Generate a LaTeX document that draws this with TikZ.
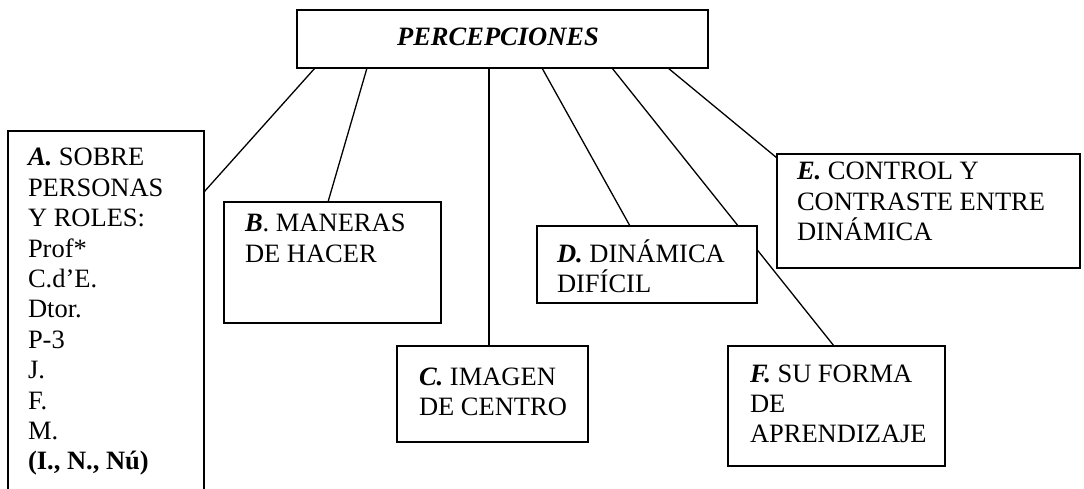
\documentclass[tikz,border=0pt]{standalone}
\usepackage{fontspec}
\setmainfont{Liberation Serif}
\usetikzlibrary{backgrounds}
\newcommand{\boxtext}[1]{\parbox[t]{320pt}{\fontsize{26.5}{30.4}\selectfont\raggedright #1}}
\newcommand{\lab}[1]{\textbf{\textit{#1}}}
\tikzset{
  box/.style={draw=black, line width=1.5pt, fill=white, inner sep=0pt, outer sep=0pt, anchor=north west},
  txt/.style={inner sep=0pt, outer sep=0pt, anchor=base west},
  conn/.style={draw=black, line width=1.3pt}
}
\begin{document}
\begin{tikzpicture}[x=1pt,y=-1pt]
\useasboundingbox (0,0) rectangle (1084,489);
\clip (0,0) rectangle (1084,489);
% boxes
\node[box, minimum width=411pt, minimum height=58pt] (P) at (297,10) {};
\node[box, minimum width=196pt, minimum height=380pt] (A) at (8,131) {};
\node[box, minimum width=217pt, minimum height=121pt] (B) at (224,202) {};
\node[box, minimum width=191pt, minimum height=96pt] (C) at (397,346) {};
\node[box, minimum width=217pt, minimum height=120pt] (F) at (728,346) {};
\node[box, minimum width=303pt, minimum height=114pt] (E) at (777,154) {};
\node[box, minimum width=220pt, minimum height=77pt] (D) at (537,226) {};
% connectors
\begin{pgfonlayer}{background}
\fill[white] (0,0) rectangle (1084,489);
\draw[conn] ([xshift=18pt]P.south west) -- ([yshift=-61pt]A.north east);
\draw[conn] ([xshift=70pt]P.south west) -- ([xshift=104pt]B.north west);
\draw[conn] ([xshift=192pt]P.south west) -- ([xshift=92pt]C.north west);
\draw[conn] ([xshift=245pt]P.south west) -- ([xshift=93pt]D.north west);
\draw[conn] ([xshift=315pt]P.south west) -- ([xshift=106pt]F.north west);
\draw[conn] ([xshift=371pt]P.south west) -- ([yshift=-4pt]E.north west);
\end{pgfonlayer}
% texts
\node[txt, anchor=base] (Pt) at (498,46) {\fontsize{26.5}{30}\selectfont\lab{PERCEPCIONES}};
\node[txt] (At) at (28,166) {\boxtext{\lab{A.} SOBRE\\PERSONAS\\Y ROLES:\\Prof*\\C.d’E.\\Dtor.\\P-3\\J.\\F.\\M.\\\textbf{(I., N., Nú)}}};
\node[txt] (Bt) at (245,232) {\boxtext{\lab{B}. MANERAS\\DE HACER}};
\node[txt] (Ct) at (419,385) {\boxtext{\lab{C.} IMAGEN\\DE CENTRO}};
\node[txt] (Dt) at (557,262) {\boxtext{\lab{D.} DINÁMICA\\DIFÍCIL}};
\node[txt] (Et) at (797,180) {\boxtext{\lab{E.} CONTROL Y\\CONTRASTE ENTRE\\DINÁMICA}};
\node[txt] (Ft) at (750,382) {\boxtext{\lab{F.} SU FORMA\\DE\\APRENDIZAJE}};
\end{tikzpicture}
\end{document}
